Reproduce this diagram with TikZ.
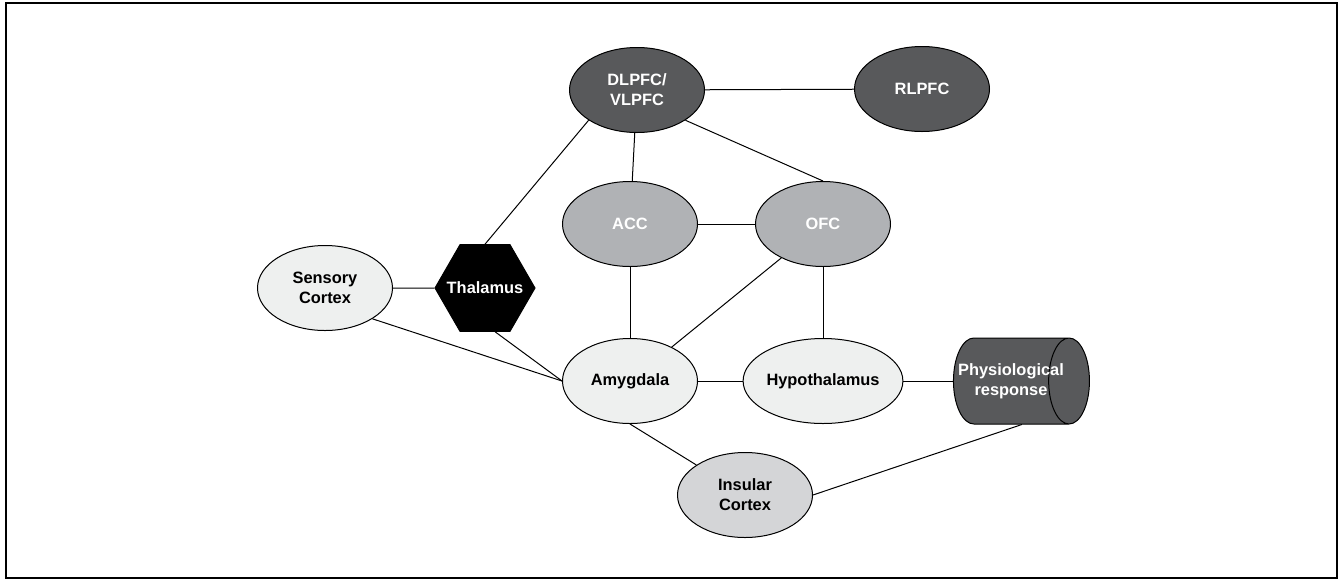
\documentclass[tikz,border=0pt]{standalone}
\usepackage{fontspec}
\setmainfont{Liberation Sans}
\usetikzlibrary{shapes.geometric}

\definecolor{regiondark}{HTML}{58595B}
\definecolor{regionmid}{HTML}{B0B2B5}
\definecolor{regionlight}{HTML}{EEF0EF}
\definecolor{regioninsula}{HTML}{D4D5D7}

\begin{document}
\begin{tikzpicture}[x=0.5pt,y=-0.5pt,
  region/.style={draw,line width=0.5pt,shape=ellipse,inner sep=0pt,minimum width=67.5pt,minimum height=42.5pt,
    align=center,font=\fontsize{8.2}{10}\selectfont\bfseries},
  darkregion/.style={region,fill=regiondark,text=white},
  midregion/.style={region,fill=regionmid,text=white},
  lightregion/.style={region,fill=regionlight},
  link/.style={line width=0.5pt}]
\useasboundingbox (0,0) rectangle (1338,579);
\draw[line width=1pt] (6,3) rectangle (1336.5,577.5);

\node (dlpfc) [darkregion] at (637,90) {DLPFC/\\VLPFC};
\node (rlpfc) [darkregion] at (922,89) {RLPFC};
\node (acc) [midregion] at (630,224) {ACC};
\node (ofc) [midregion] at (823,224) {OFC};
\node (sensory) [lightregion] at (325,288) {Sensory\\Cortex};
\node (thalamus) [draw,line width=0.5pt,shape=regular polygon,regular polygon sides=6,minimum size=50pt,inner sep=0pt,
  fill=black,text=white,font=\fontsize{8.2}{10}\selectfont\bfseries] at (485,288) {\makebox[0pt]{Thalamus}};
\node (amygdala) [lightregion] at (630,381) {Amygdala};
\node (hypothalamus) [lightregion] at (823,381) {Hypothalamus};
\node (response) [draw,line width=0.5pt,shape=cylinder,aspect=1.02,minimum width=43pt,minimum height=68pt,inner sep=0pt,
  fill=regiondark,text=white,font=\fontsize{8.2}{10}\selectfont\bfseries] at (1011,381)
  {\makebox[0pt]{\begin{tabular}{@{}c@{}}Physiological\\response\end{tabular}}};
\node (insular) [region,fill=regioninsula] at (745,495) {Insular\\Cortex};

\draw[link] (dlpfc) -- (rlpfc);
\draw[link] (dlpfc.212) -- (thalamus.north);
\draw[link] (dlpfc) -- (acc);
\draw[link] (dlpfc.328) -- (ofc.north);
\draw[link] (acc) -- (ofc);
\draw[link] (acc) -- (amygdala);
\draw[link] (ofc) -- (amygdala);
\draw[link] (ofc) -- (hypothalamus);
\draw[link] (sensory) -- (thalamus);
\draw[link] (sensory.327) -- (amygdala.west);
\draw[link] (thalamus.-77) -- (amygdala.west);
\draw[link] (amygdala) -- (hypothalamus);
\draw[link] (hypothalamus) -- (response);
\draw[link] (amygdala.south) -- (insular);
\draw[link] (insular.east) -- (response.-76);

\end{tikzpicture}
\end{document}
